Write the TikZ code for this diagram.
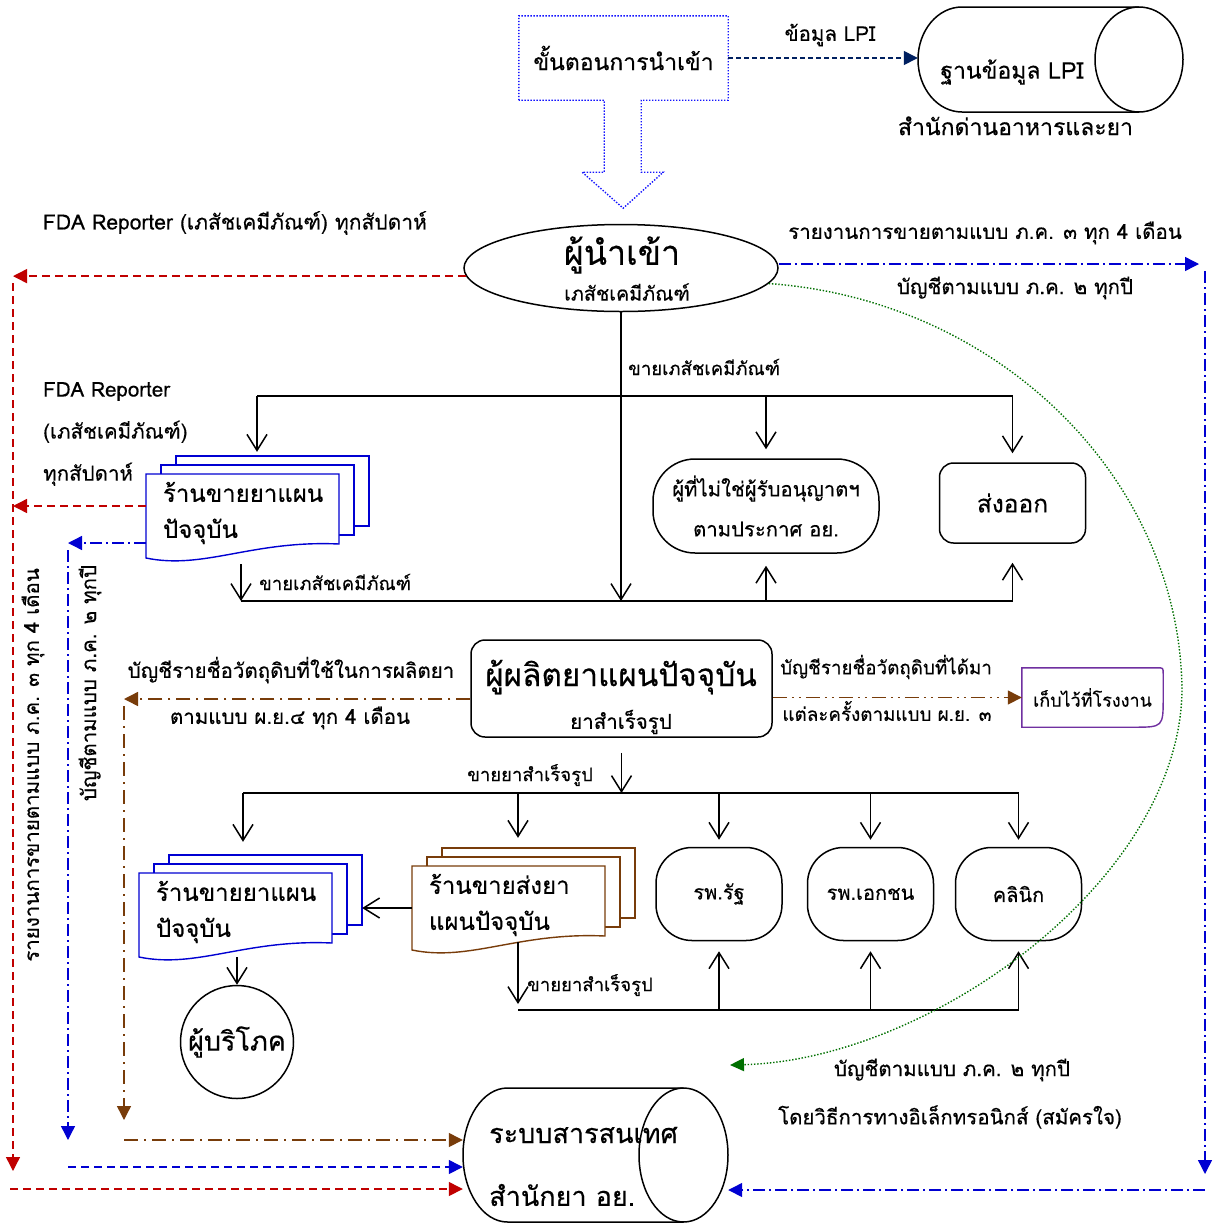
\documentclass[tikz,border=0pt]{standalone}
\usepackage{fontspec}
\setmainfont{Loma}[Script=Thai, FakeBold=0.35]
\usetikzlibrary{shapes.geometric, positioning, calc, arrows.meta}
\definecolor{navy}{RGB}{0,32,96}
\definecolor{fdared}{RGB}{192,0,0}
\definecolor{fdablue}{RGB}{0,0,210}
\definecolor{importblue}{RGB}{20,20,255}
\definecolor{fdabrown}{RGB}{120,60,10}
\definecolor{fdagreen}{RGB}{0,112,0}
\definecolor{fdapurple}{RGB}{112,48,160}
\tikzstyle{blk}=[draw=black, line width=1.5pt]
\tikzstyle{blkarrow}=[blk, -{Straight Barb[length=16pt,width=20pt]}]
\tikzstyle{redarrow}=[draw=fdared, line width=1.4pt, dash pattern=on 8pt off 5pt,
  -{Triangle[length=14pt,width=14pt]}]
\tikzstyle{bluedashdot}=[draw=fdablue, line width=1.4pt,
  dash pattern=on 12pt off 4pt on 2pt off 4pt, -{Triangle[length=14pt,width=14pt]}]
\tikzstyle{bluedash}=[draw=fdablue, line width=1.4pt, dash pattern=on 8pt off 5pt,
  -{Triangle[length=14pt,width=14pt]}]
\tikzstyle{browndashdot}=[draw=fdabrown, line width=1.4pt,
  dash pattern=on 14pt off 6pt on 2pt off 6pt, -{Triangle[length=14pt,width=14pt]}]
\tikzstyle{browndashdotdot}=[draw=fdabrown, line width=1.4pt,
  dash pattern=on 14pt off 5pt on 2pt off 5pt on 2pt off 5pt, -{Triangle[length=14pt,width=14pt]}]
\tikzstyle{greendots}=[draw=fdagreen, line width=1.4pt, dash pattern=on 1.4pt off 1.8pt,
  -{Triangle[length=14pt,width=13pt]}]
\tikzstyle{navydash}=[draw=navy, line width=1.3pt, dash pattern=on 5pt off 3pt,
  -{Triangle[length=14pt,width=14pt]}]
\tikzstyle{importdots}=[draw=importblue, line width=1.4pt, dash pattern=on 1.4pt off 1.6pt]
\tikzstyle{smalltxt}=[font=\fontsize{18.5}{22}\selectfont, inner sep=1pt]
\tikzstyle{txt}=[font=\fontsize{20.5}{24}\selectfont, inner sep=1pt]
\tikzstyle{bigtxt}=[font=\fontsize{23}{28}\selectfont, inner sep=1pt]
\tikzstyle{hugetxt}=[font=\fontsize{27}{32}\selectfont, inner sep=1pt]
\tikzstyle{makertxt}=[font=\fontsize{31.5}{36}\selectfont, inner sep=1pt]
\tikzstyle{importertxt}=[font=\fontsize{34}{38}\selectfont, inner sep=1pt]
\tikzstyle{roundbox}=[blk, rounded corners=14pt, inner sep=0pt]
\tikzstyle{barrel}=[blk, rounded corners=36pt, minimum width=126pt, minimum height=93pt,
  inner sep=0pt, font=\fontsize{20}{24}\selectfont]
\tikzstyle{sheettxt}=[font=\fontsize{24}{36}\selectfont, inner sep=0pt, align=left]
% stack of three sheets: x, y of front sheet top left, colour, node name, text
\newcommand{\sheetstack}[5]{%
  \foreach \k in {2,1}
    \draw[#3, line width=1.4pt, fill=white] (#1+15*\k,#2-9*\k) rectangle ++(193,70);
  \draw[#3, line width=1.4pt, fill=white] (#1,#2) -- ++(193,0) -- ++(0,70)
    .. controls (#1+106,#2+66) and (#1+58,#2+96) .. (#1,#2+84) -- cycle;
  \node[minimum width=193pt, minimum height=84pt, inner sep=0pt] (#4) at (#1+96.5,#2+42) {};
  \node[sheettxt, anchor=west] (#4txt) at ([xshift=17pt,yshift=3pt]#4.west) {#5};}
% lying cylinder: left, top, right, bottom, cap radius, node name
\newcommand{\hcylinder}[6]{%
  \pgfmathsetmacro{\cylmid}{(#2+#4)/2}\pgfmathsetmacro{\cylry}{(#4-#2)/2}%
  \pgfmathsetmacro{\cylk}{0.5523*#5}%
  \draw[blk] (#3-#5,#2) -- (#1+#5,#2)
    .. controls (#1+#5-\cylk,#2) and (#1,\cylmid-0.5523*\cylry) .. (#1,\cylmid)
    .. controls (#1,\cylmid+0.5523*\cylry) and (#1+#5-\cylk,#4) .. (#1+#5,#4) -- (#3-#5,#4);
  \draw[blk] (#3-#5,\cylmid) ellipse[x radius=#5, y radius=\cylry];
  \node[minimum width=#3-#1, minimum height=#4-#2, inner sep=0pt] (#6) at (#1/2+#3/2,\cylmid) {};}

\begin{document}
\begin{tikzpicture}[x=1pt, y=-1pt]
  \fill[white] (0,0) rectangle (1218,1224);
  \useasboundingbox (0,0) rectangle (1218,1224);

  % import step and LPI
  \node[bigtxt, minimum width=209pt, minimum height=84pt] (import) at (623.5,58) {ขั้นตอนการนำเข้า};
  \draw[importdots] (import.south west) -- (import.north west) -- (import.north east)
    -- (import.south east) -- ++(-87,0) -- ++(0,72) -- ++(22,0) -- ++(-40,36)
    -- ++(-41,-36) -- ++(22,0) -- ++(0,-72) -- cycle;
  \hcylinder{918}{7}{1183}{112}{44}{lpi}
  \node[bigtxt] (lpitext) at (1012,72) {ฐานข้อมูล LPI};
  \node[bigtxt, below=3pt of lpi, xshift=-35pt] (fdaoffice) {สำนักด่านอาหารและยา};
  \draw[navydash] (import.east) -- (import.east -| lpi.west);
  \node[txt] (lpidata) at (830,35) {ข้อมูล LPI};

  % importer
  \node[blk, ellipse, minimum width=314pt, minimum height=87pt, inner sep=0pt] (importer) at (621,268) {};
  \node[importertxt] (importername) at (622,255) {ผู้นำเข้า};
  \node[txt, font=\fontsize{19.7}{24}\selectfont] (importerkind) at (627,292) {เภสัชเคมีภัณฑ์};

  % shops
  \sheetstack{146}{474}{fdablue}{shop}{ร้านขายยาแผน\\ปัจจุบัน}
  \sheetstack{139}{873}{fdablue}{shoptwo}{ร้านขายยาแผน\\ปัจจุบัน}
  \sheetstack{412}{866}{fdabrown}{whole}{ร้านขายส่งยา\\แผนปัจจุบัน}

  % boxes
  \node[blk, rounded corners=42pt, minimum width=226pt, minimum height=94pt, align=center,
    font=\fontsize{20.3}{40}\selectfont] (nonlic) at (766,506) {ผู้ที่ไม่ใช่ผู้รับอนุญาตฯ\\ตามประกาศ อย.};
  \node[roundbox, font=\fontsize{24.5}{28}\selectfont, minimum width=146pt, minimum height=80pt] (export) at (1012.5,503) {ส่งออก};
  \node[roundbox, minimum width=301pt, minimum height=97pt] (maker) at (621.5,688.5) {};
  \node[makertxt] (makername) at (621,677) {ผู้ผลิตยาแผนปัจจุบัน};
  \node[txt] (makerkind) at (621,722) {ยาสำเร็จรูป};
  \node[smalltxt, font=\fontsize{18}{22}\selectfont, minimum width=141pt, minimum height=59pt] (factory) at (1092.5,697.5) {เก็บไว้ที่โรงงาน};
  \draw[fdapurple, line width=1.4pt] (factory.south west) -- (factory.north west)
    -- ([xshift=-6pt]factory.north east) .. controls (factory.north east) .. ([yshift=-6pt]factory.north east)
    -- ([yshift=30pt]factory.south east) .. controls (factory.south east) .. ([xshift=-30pt]factory.south east)
    -- cycle;
  \foreach \n/\x/\t in {state/719/รพ.รัฐ, private/870.5/รพ.เอกชน, clinic/1018.5/คลินิก}
    \node[barrel] (\n) at (\x,894) {\t};
  \node[blk, circle, hugetxt, minimum size=113pt, inner sep=0pt] (consumer) at (237,1042) {ผู้บริโภค};
  \hcylinder{463}{1088}{728}{1222}{44.5}{isys}
  \node[hugetxt, anchor=west] (isysname) at (488,1135) {ระบบสารสนเทศ};
  \node[hugetxt, anchor=west] (isysoffice) at (488,1195) {สำนักยา อย.};

  % chemical sales
  \coordinate (chemL) at (257,396);
  \coordinate (chemB) at (241,601);
  \draw[blk] (chemL) -- (chemL -| export.north);
  \draw[blkarrow] (importer.south) -- (importer.south |- chemB);
  \draw[blkarrow] (chemL) -- ([yshift=22pt]shop.north -| chemL);
  \foreach \n in {nonlic, export}
    \draw[blkarrow] (\n.north |- chemL) -- ([yshift=9pt]\n.north);
  \draw[blk] (chemB) -- (chemB -| export.south);
  \draw[blkarrow] (nonlic.south |- chemB) -- ([yshift=-12pt]nonlic.south);
  \draw[blkarrow] (export.south |- chemB) -- ([yshift=-19pt]export.south);
  \draw[blkarrow] ([yshift=-6pt]shop.south -| chemB) -- (chemB);
  \node[smalltxt, anchor=west] (sellchem) at (627,367) {ขายเภสัชเคมีภัณฑ์};
  \node[smalltxt, anchor=west] (sellchemshop) at (258,582) {ขายเภสัชเคมีภัณฑ์};

  % finished drug sales
  \coordinate (drugL) at (243,793);
  \coordinate (drugB) at (518,1010);
  \draw[blkarrow] ([yshift=-15pt]maker.south) -- (maker.south |- drugL);
  \node[smalltxt, anchor=east] (sellready) at (594,775) {ขายยาสำเร็จรูป};
  \draw[blk] (drugL) -- (drugL -| clinic.north);
  \draw[blkarrow] (drugL) -- ([yshift=31pt]shoptwo.north -| drugL);
  \draw[blkarrow] ([xshift=9.5pt]whole.north |- drugL) -- ([xshift=9.5pt,yshift=28pt]whole.north);
  \foreach \n in {state, private, clinic} {
    \draw[blkarrow] (\n.north |- drugL) -- ([yshift=7pt]\n.north);
    \draw[blkarrow] (\n.south |- drugB) -- ([yshift=-10pt]\n.south);
  }
  \draw[blk] (drugB) -- (drugB -| clinic.south);
  \draw[blkarrow] ([yshift=8pt]whole.south -| drugB) -- ([yshift=6pt]drugB);
  \node[smalltxt, anchor=west] (sellreadywhole) at (526,985) {ขายยาสำเร็จรูป};
  \draw[blkarrow] (whole.west) -- ([xshift=30pt]shoptwo.east |- whole.west);
  \draw[blkarrow] (shoptwo.south -| consumer.north) -- (consumer.north);

  % reports, red
  \coordinate (redT) at (importer.183 -| 13,0);
  \coordinate (redB) at (13,1171);
  \coordinate (redI) at (10,1189);
  \draw[redarrow] (importer.183) -- (redT);
  \draw[redarrow] ([yshift=-7pt]redT) -- (redB);
  \draw[redarrow] ([yshift=10pt]shop.west) -- ([yshift=10pt]shop.west -| redT);
  \draw[redarrow] (redI) -- (redI -| isys.west);

  % reports, blue
  \coordinate (blueL) at (68,543);
  \coordinate (blueLB) at (68,1140);
  \coordinate (blueLI) at (68,1167);
  \draw[bluedashdot] ([yshift=-27pt]shop.west) -- (blueL);
  \draw[bluedashdot] ([yshift=-7pt]blueL) -- (blueLB);
  \draw[bluedash] (blueLI) -- (blueLI -| isys.west);
  \coordinate (blueR) at (1205,264);
  \coordinate (blueRB) at (1205,1174);
  \coordinate (blueRI) at (1205,1190);
  \draw[bluedashdot] ([yshift=4pt]importer.east) -- ([xshift=-6pt]blueR);
  \draw[bluedashdot] ([yshift=-7pt]blueR) -- (blueRB);
  \draw[bluedashdot] (blueRI) -- (blueRI -| isys.east);

  % reports, brown
  \coordinate (brownL) at (124,699);
  \coordinate (brownLB) at (124,1120);
  \coordinate (brownLI) at (124,1140);
  \draw[browndashdot] (maker.west |- brownL) -- (brownL);
  \draw[browndashdot] ([yshift=-7pt]brownL) -- (brownLB);
  \draw[browndashdot] (brownLI) -- (brownLI -| isys.west);
  \draw[browndashdotdot] (maker.east |- factory.west) -- (factory.west);

  % voluntary electronic report, green
  \coordinate (greenI) at (730,1065);
  \draw[greendots] (importer.354) .. controls (1000,300) and (1180,480) .. (1182,690)
    .. controls (1180,880) and (930,1060) .. (greenI);

  % labels
  \node[txt, font=\fontsize{21}{24}\selectfont] (fdarep) at (235,223) {FDA Reporter (เภสัชเคมีภัณฑ์) ทุกสัปดาห์};
  \node[txt, align=left, anchor=west, font=\fontsize{20.5}{42}\selectfont] (fdarepshop) at (42,434)
    {FDA Reporter\\(เภสัชเคมีภัณฑ์)\\ทุกสัปดาห์};
  \node[txt] (salesrep) at (985,233) {รายงานการขายตามแบบ ภ.ค. ๓ ทุก 4 เดือน};
  \node[txt] (yearacct) at (1015,288) {บัญชีตามแบบ ภ.ค. ๒ ทุกปี};
  \node[txt, rotate=90] (salesrepshop) at (33,765) {รายงานการขายตามแบบ ภ.ค. ๓ ทุก 4 เดือน};
  \node[txt, rotate=90] (yearacctshop) at (90,683) {บัญชีตามแบบ ภ.ค. ๒ ทุกปี};
  \node[txt] (rawused) at (291,670) {บัญชีรายชื่อวัตถุดิบที่ใช้ในการผลิตยา};
  \node[txt] (rawusedform) at (290,718) {ตามแบบ ผ.ย.๔ ทุก 4 เดือน};
  \node[smalltxt, font=\fontsize{18.8}{22}\selectfont] (rawgot) at (886,667) {บัญชีรายชื่อวัตถุดิบที่ได้มา};
  \node[smalltxt, font=\fontsize{18.8}{22}\selectfont] (rawgotform) at (887,711) {แต่ละครั้งตามแบบ ผ.ย. ๓};
  \node[txt] (yearaccte) at (952,1070) {บัญชีตามแบบ ภ.ค. ๒ ทุกปี};
  \node[txt] (evol) at (950,1117) {โดยวิธีการทางอิเล็กทรอนิกส์ (สมัครใจ)};
\end{tikzpicture}
\end{document}
